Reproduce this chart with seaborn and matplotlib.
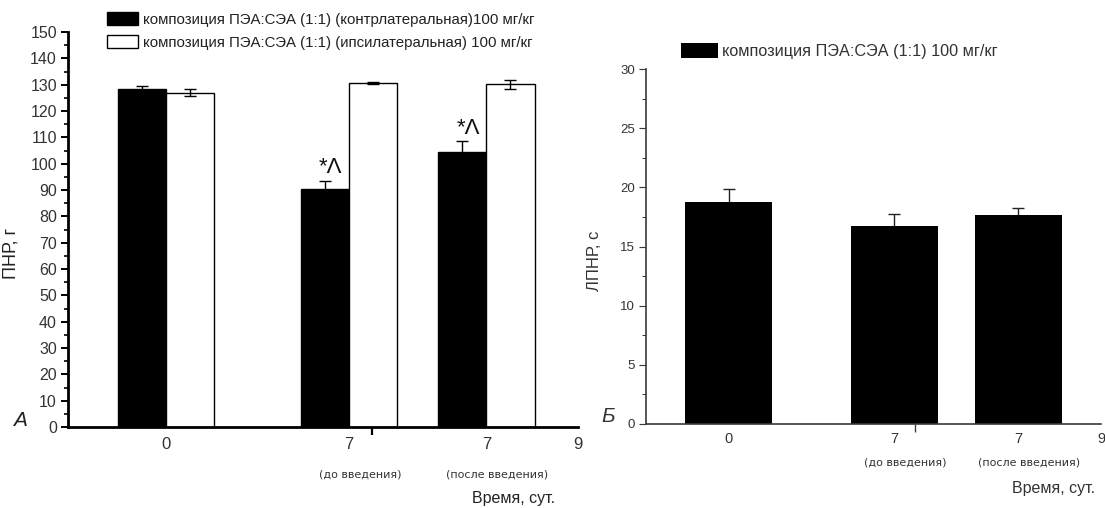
import numpy as np
import pandas as pd
import matplotlib
matplotlib.use('Agg')
import matplotlib.pyplot as plt
import seaborn as sns
from matplotlib import font_manager as fm
from matplotlib.patches import Patch
from matplotlib.ticker import FixedLocator, MultipleLocator

sns.set_theme(style='ticks')

# Data
group_day = [0, 4, 7]  # where each group sits on the day axis
day_labels = ['0', '7', '7']
day_notes = ['', '(до введения)', '(после введения)']

pnr_contra = [128.4, 90.3, 104.6]      # ПНР, г (контрлатеральная)
pnr_contra_err = [1.2, 3.2, 3.9]
pnr_ipsi = [127.0, 130.6, 130.2]       # ПНР, г (ипсилатеральная)
pnr_ipsi_err = [1.3, 0.3, 1.7]
pnr_marks = ['', '*Λ', '*Λ']           # significance marks on contralateral bars

lpnr = [18.8, 16.75, 17.7]             # ЛПНР, с
lpnr_err = [1.05, 1.0, 0.55]

contra_label = 'композиция ПЭА:СЭА (1:1) (контрлатеральная)100 мг/кг'
ipsi_label = 'композиция ПЭА:СЭА (1:1) (ипсилатеральная) 100 мг/кг'
single_label = 'композиция ПЭА:СЭА (1:1) 100 мг/кг'

# Fonts
names = {f.name for f in fm.fontManager.ttflist}
arial = 'Liberation Sans' if 'Liberation Sans' in names else 'DejaVu Sans'
plt.rcParams['font.family'] = [arial, 'DejaVu Sans']

# Long tables for seaborn
left_df = pd.DataFrame({
    'day': group_day * 2,
    'value': pnr_contra + pnr_ipsi,
    'side': ['contra'] * 3 + ['ipsi'] * 3,
})
right_df = pd.DataFrame({'day': group_day, 'value': lpnr})

fig = plt.figure(figsize=(11.05, 5.08), dpi=100)
W, H = 1105, 508
ax1 = fig.add_axes([68 / W, 81 / H, 510 / W, 395 / H])
ax2 = fig.add_axes([646 / W, 84 / H, 455 / W, 355 / H])

# ---- Panel A ----
sns.barplot(data=left_df, x='day', y='value', hue='side', native_scale=True,
            palette=['black', 'white'], saturation=1, width=0.7,
            edgecolor='black', linewidth=1, errorbar=None, legend=False, ax=ax1)

# error bars: under the black bars (only upper half shows), over the white ones
errs = [pnr_contra_err, pnr_ipsi_err]
for cont, err, z in zip(ax1.containers, errs, [0.5, 3]):
    xs = [p.get_x() + p.get_width() / 2 for p in cont]
    ys = [p.get_height() for p in cont]
    ax1.errorbar(xs, ys, yerr=err, fmt='none', ecolor='black', elinewidth=1,
                 capsize=4, capthick=1, zorder=z)

contra_bars = ax1.containers[0]
for p, err, mark in zip(contra_bars, pnr_contra_err, pnr_marks):
    if mark:
        ax1.annotate(mark, (p.get_x() + p.get_width() / 2, p.get_height() + err),
                     xytext=(4, 2), textcoords='offset points', ha='center',
                     va='bottom', fontsize=16, color='#111')

ax1.set_xlim(-2.14, 9)
ax1.set_ylim(0, 150)
ax1.yaxis.set_major_locator(MultipleLocator(10))
ax1.yaxis.set_minor_locator(MultipleLocator(5))

# ---- Panel Б ----
sns.barplot(data=right_df, x='day', y='value', native_scale=True, color='black',
            saturation=1, width=0.7, linewidth=0, errorbar=None, ax=ax2)
cont = ax2.containers[0]
xs = [p.get_x() + p.get_width() / 2 for p in cont]
ys = [p.get_height() for p in cont]
ax2.errorbar(xs, ys, yerr=lpnr_err, fmt='none', ecolor='#222', elinewidth=1,
             capsize=4, capthick=1, zorder=0.5)
ax2.set_xlim(-2, 9)
ax2.set_ylim(0, 30)
ax2.yaxis.set_major_locator(MultipleLocator(5))
ax2.yaxis.set_minor_locator(MultipleLocator(2.5))

# ---- Shared axis styling ----
for ax, lw, col, tsize, xsize, sub_dy, lab_pad in [
        (ax1, 2.0, 'black', 11.5, 12, 34, 7),
        (ax2, 1.2, '#3a3a3a', 9.5, 10.5, 28, 6)]:
    sns.despine(ax=ax)
    for s in ['left', 'bottom']:
        ax.spines[s].set_linewidth(lw)
        ax.spines[s].set_color(col)
    ax.set_xlabel('')
    ax.set_ylabel('')
    ax.grid(False)
    ax.set_facecolor('white')
    # day labels as major (no marks), tick marks at 0, 4.5, 9 as minor
    ax.xaxis.set_major_locator(FixedLocator(group_day + [9]))
    ax.set_xticklabels(day_labels + ['9'])
    ax.xaxis.set_minor_locator(FixedLocator([0, 4.5, 9]))
    ax.tick_params(axis='x', which='major', length=0, pad=lab_pad,
                   labelsize=xsize, labelcolor='#333')
    ax.tick_params(axis='x', which='minor', length=6, width=lw * 0.8, color=col,
                   direction='out')
    ax.tick_params(axis='y', which='major', length=5, width=lw * 0.7, color=col,
                   labelsize=tsize, labelcolor='#333', pad=3)
    ax.tick_params(axis='y', which='minor', length=3, width=lw * 0.6, color=col)
    for d, note in zip(group_day, day_notes):
        if note:
            ax.annotate(note, (d, 0), xytext=(8, -sub_dy), textcoords='offset points',
                        ha='center', va='center', fontsize=8, color='#333',
                        family='DejaVu Sans')

ax1.set_ylabel('ПНР, г', fontsize=13, color='#222')
ax1.yaxis.set_label_coords(-0.096, 0.44)
ax2.set_ylabel('ЛПНР, с', fontsize=12, color='#333')
ax2.yaxis.set_label_coords(-0.097, 0.46)

fig.text(555 / W, 1 - 498 / H, 'Время, сут.', ha='right', va='center',
         fontsize=11.5, color='#222')
fig.text(1095 / W, 1 - 488 / H, 'Время, сут.', ha='right', va='center',
         fontsize=11.5, color='#333')
fig.text(20 / W, 1 - 420 / H, 'А', ha='center', va='center', fontsize=15,
         style='italic', color='#222')
fig.text(608 / W, 1 - 417 / H, 'Б', ha='center', va='center', fontsize=15,
         style='italic', color='#333')

# ---- Legends ----
h1 = [Patch(facecolor='black', edgecolor='black', linewidth=1),
      Patch(facecolor='white', edgecolor='black', linewidth=1)]
leg1 = fig.legend(h1, [contra_label, ipsi_label], loc='upper left',
                  bbox_to_anchor=(107 / W, 1 - 12 / H), frameon=False,
                  prop={'size': 10.8}, handlelength=2.05,
                  handleheight=0.95, handletextpad=0.35, labelspacing=0.58,
                  borderpad=0, borderaxespad=0)
for t in leg1.get_texts():
    t.set_color('#222')

h2 = [Patch(facecolor='black', edgecolor='black', linewidth=0)]
leg2 = fig.legend(h2, [single_label], loc='upper left',
                  bbox_to_anchor=(681 / W, 1 - 43 / H), frameon=False,
                  prop={'size': 11.7}, handlelength=2.25,
                  handleheight=1.05, handletextpad=0.25, borderpad=0,
                  borderaxespad=0)
for t in leg2.get_texts():
    t.set_color('#333')

fig.savefig('out.png', dpi=100, facecolor='white')
